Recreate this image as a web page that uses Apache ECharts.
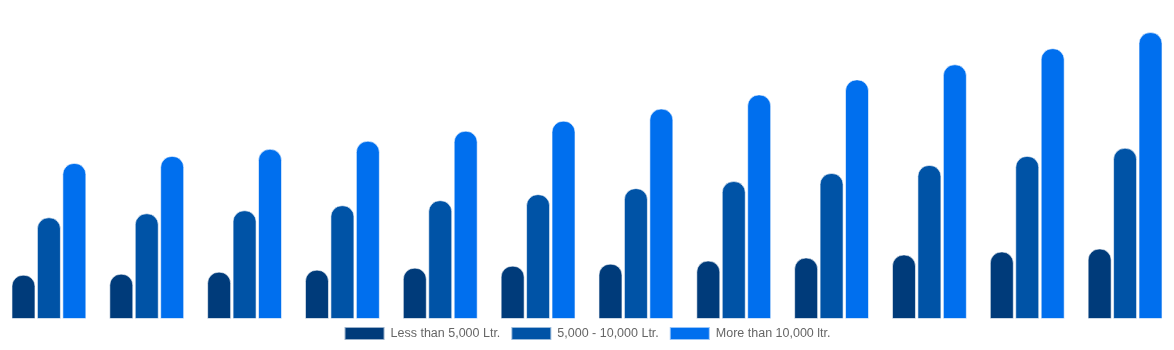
<!DOCTYPE html>
<html>
<head>
<meta charset="utf-8">
<script src="https://cdn.jsdelivr.net/npm/echarts@6/dist/echarts.min.js"></script>
<style>html,body{margin:0;padding:0;background:#fff}#c{width:1174px;height:350px}</style>
</head>
<body>
<div id="c"></div>
<script>
const categories = ['Jan','Feb','Mar','Apr','May','Jun','Jul','Aug','Sep','Oct','Nov','Dec'];
const seriesNames = ['Less than 5,000 Ltr.', '5,000 - 10,000 Ltr.', 'More than 10,000 ltr.'];
const lessThan5000 = [44, 45, 47, 49, 51, 53, 55, 58, 61, 64, 67, 70];
const between5000and10000 = [101, 105, 108, 113, 118, 124, 130, 137, 145, 153, 162, 170];
const moreThan10000 = [155, 162, 169, 177, 187, 197, 209, 223, 238, 253, 269, 285];
const colors = ['#003b7a', '#0053a6', '#006fee'];

const chart = echarts.init(document.getElementById('c'), null, {renderer: 'canvas'});
const mk = (name, data, i) => ({
  name, type: 'bar', data,
  barWidth: 24, barGap: '6%',
  itemStyle: {color: colors[i], borderRadius: [11, 11, 0, 0], borderColor: 'rgba(255,255,255,0.6)', borderWidth: 1}
});
chart.setOption({
  animation: false,
  color: colors,
  grid: {left: 0, right: 0, top: 17, bottom: 31, containLabel: false},
  legend: {
    bottom: 4, left: 'center', itemWidth: 40, itemHeight: 13, itemGap: 10,
    icon: 'rect',
    textStyle: {color: '#666', fontSize: 12.5, fontFamily: 'Liberation Sans, Arial, sans-serif', padding: [0, 0, 0, 1]},
    data: seriesNames
  },
  xAxis: {type: 'category', data: categories, show: false},
  yAxis: {type: 'value', min: 0, max: 300, show: false, splitLine: {show: false}},
  series: [
    mk(seriesNames[0], lessThan5000, 0),
    mk(seriesNames[1], between5000and10000, 1),
    mk(seriesNames[2], moreThan10000, 2)
  ]
});
</script>
</body>
</html>
